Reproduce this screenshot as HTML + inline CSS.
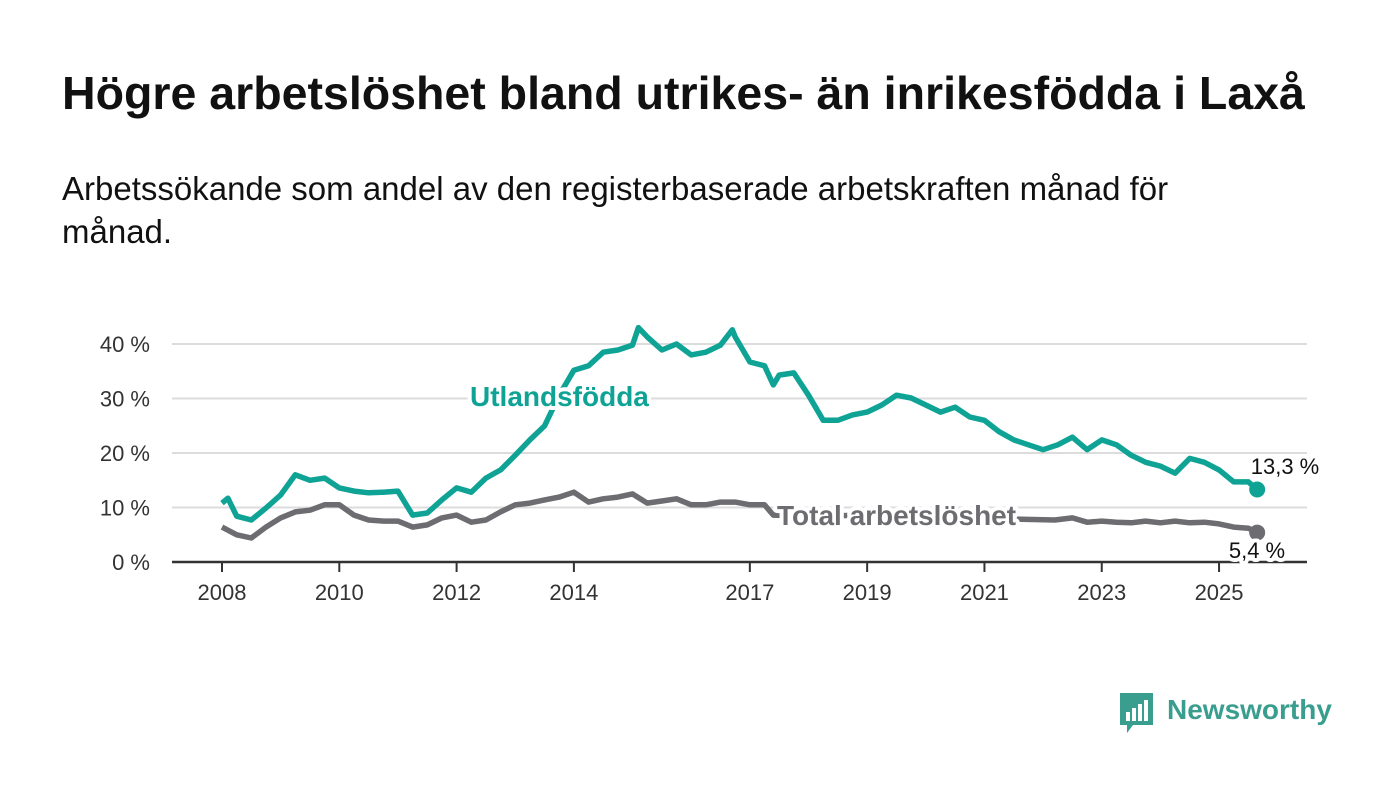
<!DOCTYPE html>
<html><head><meta charset="utf-8"><style>
body{margin:0;background:#fff;width:1400px;height:794px;overflow:hidden;font-family:"Liberation Sans","DejaVu Sans",sans-serif;}
h1{position:absolute;left:62px;top:66px;margin:0;font-size:46.5px;font-weight:bold;color:#111;white-space:nowrap}
.sub{position:absolute;left:62px;top:167px;margin:0;font-size:33px;line-height:43px;color:#111;width:1200px}
svg{position:absolute;left:0;top:0}
</style></head><body>
<h1>Högre arbetslöshet bland utrikes- än inrikesfödda i Laxå</h1>
<p class="sub">Arbetssökande som andel av den registerbaserade arbetskraften månad för månad.</p>
<svg id="chart" width="1400" height="794"></svg>
<script>
const tickYears=[2008,2010,2012,2014,2017,2019,2021,2023,2025];
const yTicks=[0,10,20,30,40];
const tUtl=[2008.0,2008.1,2008.25,2008.5,2008.75,2009.0,2009.25,2009.5,2009.75,2010.0,2010.25,2010.5,2010.75,2011.0,2011.25,2011.5,2011.75,2012.0,2012.25,2012.5,2012.75,2013.0,2013.25,2013.5,2013.75,2014.0,2014.25,2014.5,2014.75,2015.0,2015.1,2015.25,2015.5,2015.75,2016.0,2016.25,2016.5,2016.7,2016.75,2017.0,2017.25,2017.4,2017.5,2017.75,2018.0,2018.25,2018.5,2018.75,2019.0,2019.25,2019.5,2019.75,2020.0,2020.25,2020.5,2020.75,2021.0,2021.25,2021.5,2021.75,2022.0,2022.25,2022.5,2022.75,2023.0,2023.25,2023.5,2023.75,2024.0,2024.25,2024.5,2024.75,2025.0,2025.25,2025.5,2025.65];
const vUtl=[10.8,11.7,8.4,7.7,9.9,12.3,16,15,15.4,13.6,13,12.7,12.8,13,8.6,9,11.4,13.6,12.8,15.4,16.9,19.6,22.4,25,30.6,35.2,36,38.5,38.9,39.8,43,41.3,38.9,40,38,38.5,39.8,42.6,41.3,36.7,36,32.5,34.3,34.7,30.6,26,26,27,27.5,28.8,30.6,30.1,28.8,27.5,28.4,26.6,26,23.9,22.4,21.5,20.6,21.5,22.9,20.6,22.4,21.5,19.6,18.3,17.6,16.3,19,18.3,16.9,14.7,14.7,13.3];
const tTot=[2008.0,2008.25,2008.5,2008.75,2009.0,2009.25,2009.5,2009.75,2010.0,2010.25,2010.5,2010.75,2011.0,2011.25,2011.5,2011.75,2012.0,2012.25,2012.5,2012.75,2013.0,2013.25,2013.5,2013.75,2014.0,2014.25,2014.5,2014.75,2015.0,2015.25,2015.5,2015.75,2016.0,2016.25,2016.5,2016.75,2017.0,2017.25,2017.4,2018.0,2019.0,2020.0,2021.0,2022.2,2022.5,2022.75,2023.0,2023.25,2023.5,2023.75,2024.0,2024.25,2024.5,2024.75,2025.0,2025.25,2025.5,2025.65];
const vTot=[6.4,5.0,4.4,6.4,8.1,9.2,9.5,10.5,10.5,8.6,7.7,7.5,7.5,6.4,6.8,8.1,8.6,7.3,7.7,9.2,10.5,10.8,11.4,11.9,12.8,11,11.6,11.9,12.5,10.8,11.2,11.6,10.5,10.5,11,11,10.5,10.5,8.6,8.4,8.6,8.2,8.0,7.7,8.1,7.3,7.5,7.3,7.2,7.5,7.2,7.5,7.2,7.3,7,6.4,6.2,5.4];
const NS="http://www.w3.org/2000/svg";
const svg=document.getElementById('chart');
const X=t=>222+(t-2008)*58.65;
const Y=v=>562-v*5.45;
function mk(tag,attrs,parent){const e=document.createElementNS(NS,tag);for(const k in attrs)e.setAttribute(k,attrs[k]);(parent||svg).appendChild(e);return e;}
yTicks.forEach(v=>{
  if(v>0){const g=mk('line',{x1:172,x2:1307,y1:Y(v),y2:Y(v),stroke:'#dcdcdc','stroke-width':2});
  
  }
  const t=mk('text',{x:150,y:Y(v)+8,'text-anchor':'end','font-size':22,fill:'#333'});t.textContent=v+' %';
  
  
});
const ax=mk('line',{x1:172,x2:1307,y1:562,y2:562,stroke:'#333','stroke-width':2.5});


tickYears.forEach(y=>{
  const l=mk('line',{x1:X(y),x2:X(y),y1:562,y2:572,stroke:'#333','stroke-width':2});
  
  
  const t=mk('text',{x:X(y),y:600,'text-anchor':'middle','font-size':22,fill:'#333'});t.textContent=y;
  
  
});
function line(ts,vs,col,name){
  const d=ts.map((t,i)=>(i?'L':'M')+X(t).toFixed(1)+' '+Y(vs[i]).toFixed(1)).join(' ');
  const p=mk('path',{d:d,fill:'none',stroke:col,'stroke-width':5.5,'stroke-linejoin':'round'});
  
  
  const n=ts.length-1;
  const c=mk('circle',{cx:X(ts[n]),cy:Y(vs[n]),r:8,fill:col});
  
  
}
line(tTot,vTot,'#6d6c70','total-line');
line(tUtl,vUtl,'#0fa396','utlandsfodda-line');
function label(x,y,txt,col,size,bold,anchor,name){
  const t=mk('text',{x:x,y:y,'font-size':size,'font-weight':bold?'bold':'normal',fill:col,stroke:'#fff','stroke-width':8,'paint-order':'stroke','stroke-linejoin':'round','text-anchor':anchor});
  t.textContent=txt;
  
  
}
label(470,406,'Utlandsfödda','#0fa396',28,true,'start','label-utlandsfodda');
label(777,525,'Total arbetslöshet','#6d6c70',28,true,'start','label-total');
label(1285,474,'13,3 %','#111',22,false,'middle','value-utlandsfodda');
label(1257,558,'5,4 %','#111',22,false,'middle','value-total');
const lg=mk('g',{});


mk('path',{d:'M1120 693 h33 v32 h-20 l-6 8 v-8 h-7 z',fill:'#3a9e8f'},lg);
[[1126,712,4,9],[1132,708,4,13],[1138,704,4,17],[1144,700,4,21]].forEach(r=>mk('rect',{x:r[0],y:r[1],width:r[2],height:r[3],fill:'#fff'},lg));
const lt=mk('text',{x:1167,y:719,'font-size':28,'font-weight':'bold',fill:'#3a9e8f'},lg);lt.textContent='Newsworthy';
</script>
</body></html>
